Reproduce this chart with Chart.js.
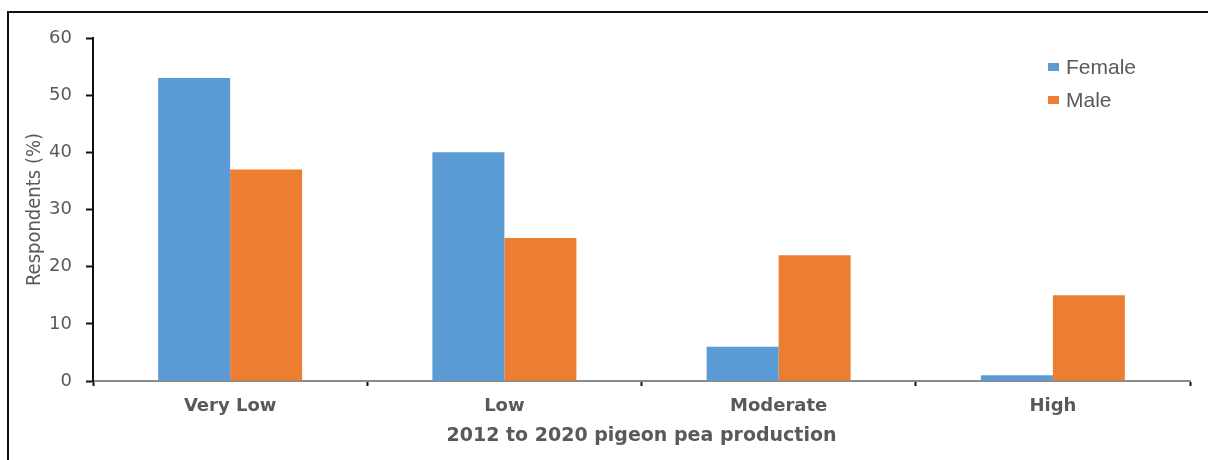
<!DOCTYPE html>
<html>
<head>
<meta charset="utf-8">
<title>Pigeon pea production by gender</title>
<script src="https://cdn.jsdelivr.net/npm/chart.js@4.4.1/dist/chart.umd.min.js"></script>
<style>
    html, body { margin: 0; padding: 0; background: #fff; overflow: hidden; }
    #wrap { position: relative; width: 1208px; height: 460px; }
    #chart { position: absolute; left: 0; top: 0; }
    /* thin frame around the figure, running off the right and bottom edges */
    #frame {
        position: absolute; left: 7px; top: 11px; width: 1230px; height: 480px;
        border: 2px solid #111; pointer-events: none; box-sizing: border-box;
    }
</style>
</head>
<body>
<div id="wrap">
    <canvas id="chart" width="1208" height="460"></canvas>
    <div id="frame"></div>
</div>
<script>
const categories = ['Very Low', 'Low', 'Moderate', 'High'];
const female = [53, 40, 6, 1];
const male = [37, 25, 22, 15];
const yTicks = [0, 10, 20, 30, 40, 50, 60];

const GREY = '#595959';

// Legend stacked in the top right corner of the plot
const cornerLegend = {
    id: 'cornerLegend',
    afterDraw(chart) {
        const ctx = chart.ctx;
        ctx.save();
        ctx.font = '21px "Liberation Sans", Arial, sans-serif';
        ctx.textBaseline = 'middle';
        chart.data.datasets.forEach((ds, i) => {
            const y = 67 + i * 33;
            ctx.fillStyle = ds.backgroundColor;
            ctx.fillRect(1048, y - 4, 11, 8);
            ctx.fillStyle = GREY;
            ctx.fillText(ds.label, 1066, y + 1);
        });
        ctx.restore();
    }
};

new Chart(document.getElementById('chart'), {
    type: 'bar',
    data: {
        labels: categories,
        datasets: [
            { label: 'Female', data: female, backgroundColor: '#5B9BD5' },
            { label: 'Male', data: male, backgroundColor: '#ED7D31' }
        ]
    },
    options: {
        responsive: false,
        animation: false,
        layout: { padding: { left: 10, top: 38, right: 18, bottom: 0 } },
        datasets: {
            bar: { categoryPercentage: 0.525, barPercentage: 1.0 }
        },
        plugins: {
            legend: { display: false },
            tooltip: { enabled: false }
        },
        scales: {
            x: {
                z: 1,
                afterFit: (scale) => { scale.height = 79; },
                border: { color: '#8a8a8a', width: 2 },
                grid: {
                    offset: true,
                    drawOnChartArea: false,
                    drawTicks: true,
                    tickLength: 5,
                    tickColor: '#111',
                    tickWidth: 2
                },
                ticks: {
                    color: GREY,
                    padding: 10,
                    font: { family: '"DejaVu Sans", Verdana, sans-serif', size: 18, weight: 'bold' }
                },
                title: {
                    display: true,
                    text: '2012 to 2020 pigeon pea production',
                    color: GREY,
                    padding: { top: 0, bottom: 13 },
                    font: { family: '"DejaVu Sans", Verdana, sans-serif', size: 19, weight: 'bold' }
                }
            },
            y: {
                min: 0,
                max: 60,
                afterFit: (scale) => { scale.width = 83; },
                afterBuildTicks: (scale) => { scale.ticks = yTicks.map(v => ({ value: v })); },
                border: { color: '#111', width: 2 },
                grid: {
                    drawOnChartArea: false,
                    tickLength: 7,
                    tickColor: '#111',
                    tickWidth: 2
                },
                ticks: {
                    color: GREY,
                    padding: 14,
                    font: { family: '"DejaVu Sans", Verdana, sans-serif', size: 18 }
                },
                title: {
                    display: true,
                    text: 'Respondents (%)',
                    color: GREY,
                    padding: { top: 13, bottom: 0 },
                    font: { family: '"Liberation Sans Narrow", "DejaVu Sans Condensed", sans-serif', size: 20 }
                }
            }
        }
    },
    plugins: [cornerLegend]
});
</script>
</body>
</html>
